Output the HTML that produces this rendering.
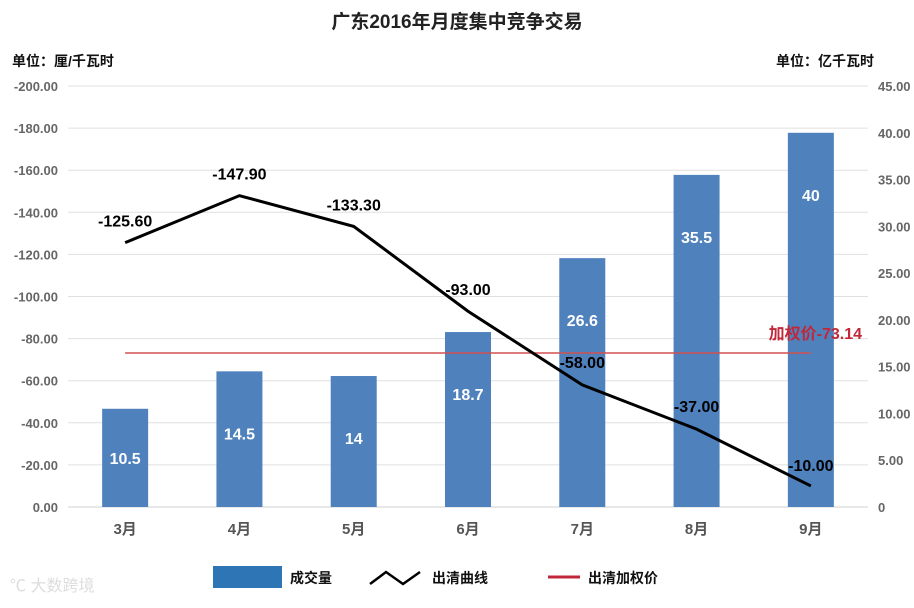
<!DOCTYPE html>
<html><head><meta charset="utf-8">
<style>
body{margin:0;background:#fff;}
svg text{font-family:"Liberation Sans","Noto Sans CJK SC",sans-serif;}
</style></head>
<body>
<svg id="chart" width="914" height="603" xmlns="http://www.w3.org/2000/svg">
<text x="457" y="28" text-anchor="middle" font-size="19" font-weight="bold" fill="#222">广东2016年月度集中竞争交易</text>
<text x="12" y="66" font-size="14" font-weight="bold" fill="#111">单位：厘/千瓦时</text>
<text x="776" y="66" font-size="14" font-weight="bold" fill="#111">单位：亿千瓦时</text>
<g id="grid"></g><g id="bars"></g><g id="lines"></g><g id="labels"></g>
<g>
<rect x="213" y="566" width="69" height="22" fill="#2e75b6"/>
<text x="290" y="583" font-size="14" font-weight="bold" fill="#111">成交量</text>
<polyline points="370,584 386,572 403,584 420,572" fill="none" stroke="#000" stroke-width="2.5"/>
<text x="432" y="583" font-size="14" font-weight="bold" fill="#111">出清曲线</text>
<line x1="548" y1="577" x2="580" y2="577" stroke="#c0283a" stroke-width="3"/>
<text x="588" y="583" font-size="14" font-weight="bold" fill="#111">出清加权价</text>
</g>
<text x="10" y="591" font-size="16" fill="#ddd">℃ 大数跨境</text>
</svg>
<script>
const categories=["3月","4月","5月","6月","7月","8月","9月"];
const volumes=[10.5,14.5,14,18.7,26.6,35.5,40];
const prices=[-125.6,-147.9,-133.3,-93,-58,-37,-10];
const priceLabels=["-125.60","-147.90","-133.30","-93.00","-58.00","-37.00","-10.00"];
const weighted=-73.14;
const leftTicks=[0,-20,-40,-60,-80,-100,-120,-140,-160,-180,-200];
const rightTicks=[0,5,10,15,20,25,30,35,40,45];
const NS="http://www.w3.org/2000/svg";
const X0=68,X1=868,Y0=507,Y1=86;
const step=(X1-X0)/categories.length;
const xc=i=>X0+step*(i+0.5);
const yL=v=>Y0+(v/200)*(Y0-Y1);
const yR=v=>Y0-(v/45)*(Y0-Y1);
function mk(tag,attrs,parent,txt){const e=document.createElementNS(NS,tag);for(const k in attrs)e.setAttribute(k,attrs[k]);if(txt!==undefined)e.textContent=txt;document.getElementById(parent).appendChild(e);return e;}
leftTicks.forEach(t=>{
 const g=mk('line',{x1:X0,x2:X1,y1:yL(t),y2:yL(t),stroke:t===0?'#d0d0d0':'#e0e0e0','stroke-width':1},'grid');
 
 
 const l=mk('text',{x:58,y:yL(t)+5,'text-anchor':'end','font-size':13,'font-weight':'bold',fill:'#666'},'grid',t===0?'0.00':t.toFixed(2));
 
 
});
rightTicks.forEach(t=>{
 const l=mk('text',{x:878,y:yR(t)+5,'font-size':13,'font-weight':'bold',fill:'#666'},'grid',t===0?'0':t.toFixed(2));
 
 
});
categories.forEach((c,i)=>{
 const top=yR(volumes[i]),h=Y0-top;
 const b=mk('rect',{x:xc(i)-23,y:top,width:46,height:h,fill:'#4f81bd'},'bars');
 
 
 const v=mk('text',{x:xc(i),y:top+Math.min(h/2,62)+6,'text-anchor':'middle','font-size':16,'font-weight':'bold',fill:'#fff'},'labels',String(volumes[i]));
 
 
 const x=mk('text',{x:xc(i),y:534,'text-anchor':'middle','font-size':15,'font-weight':'bold',fill:'#555'},'labels',c);
 
 
});
const w=mk('line',{x1:xc(0),x2:xc(6),y1:yL(weighted),y2:yL(weighted),stroke:'#d05050','stroke-width':1.5},'lines');


const wl=mk('text',{x:862,y:yL(weighted)-14,'text-anchor':'end','font-size':16,'font-weight':'bold',fill:'#c0283a'},'labels','加权价'+weighted.toFixed(2));


const pl=mk('polyline',{points:prices.map((p,i)=>xc(i)+','+yL(p)).join(' '),fill:'none',stroke:'#000','stroke-width':3},'lines');


prices.forEach((p,i)=>{
 const dy=i<4?-16:(i===6?-15:-17);
 const t=mk('text',{x:xc(i),y:yL(p)+dy,'text-anchor':'middle','font-size':16,'font-weight':'bold',fill:'#000'},'labels',priceLabels[i]);
 
 
});
</script>
</body></html>
